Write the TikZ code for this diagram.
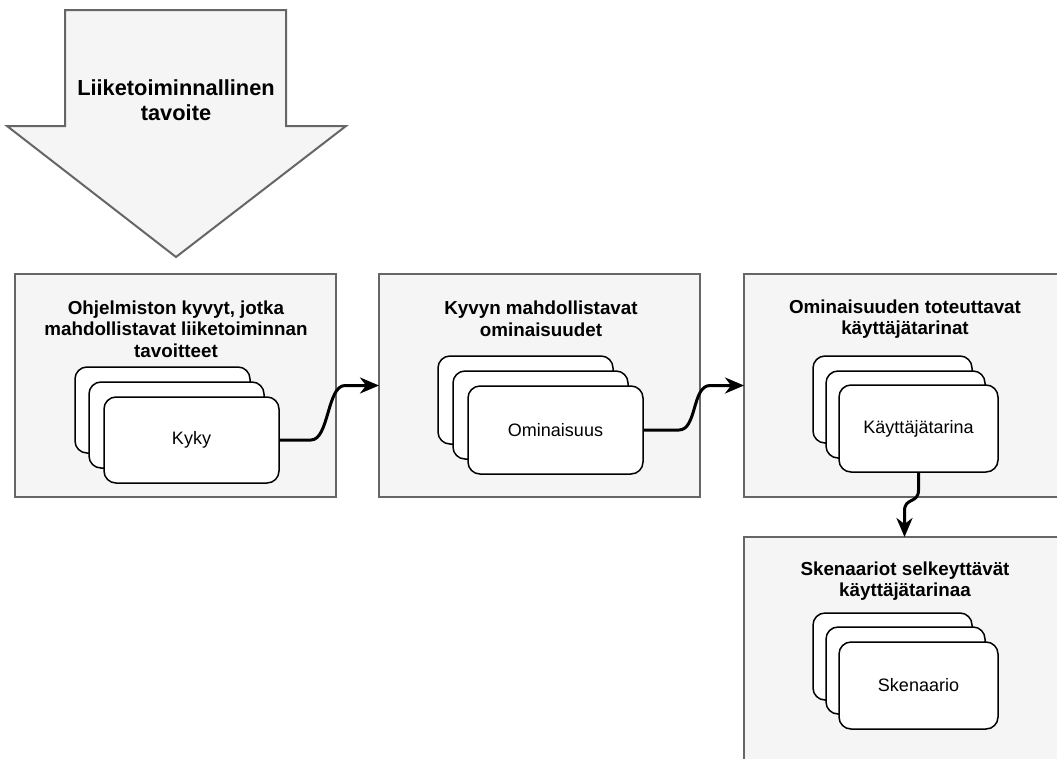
\documentclass[tikz,border=0pt]{standalone}
\usepackage{fontspec}
\setmainfont{Liberation Sans}
\usetikzlibrary{arrows.meta,calc}
\definecolor{boxfill}{HTML}{F5F5F5}
\definecolor{boxline}{HTML}{666666}
\tikzset{
 panel/.style={draw=boxline, fill=boxfill, line width=2pt, minimum width=321pt, minimum height=223pt, anchor=north west, inner sep=0pt, outer sep=0pt},
 card/.style={draw=black, fill=white, line width=1.5pt, rounded corners=12pt, minimum width=175pt, minimum height=87pt, anchor=north west, inner sep=0pt, outer sep=0pt, font=\fontsize{18}{21.6}\selectfont},
 smallcard/.style={card, minimum width=159pt},
 ptitle/.style={font=\bfseries\fontsize{18.8}{21.5}\selectfont, align=center, inner sep=0pt},
 conn/.style={line width=3pt, -{Stealth[length=19pt,width=16pt,inset=6pt]}},
}
\begin{document}
\begin{tikzpicture}[x=1pt,y=-1pt]
\useasboundingbox (0,0) rectangle (1057,758);
\clip (0,0) rectangle (1057,758);
% goal arrow
\draw[draw=boxline, fill=boxfill, line width=2pt, line join=miter] (65,10) -- (286,10) -- (286,126) -- (346,126) -- (176,257) -- (7,126) -- (65,126) -- cycle;
\node[font=\bfseries\fontsize{21.8}{25}\selectfont, align=center, inner sep=0pt] (goal) at (176,100) {Liiketoiminnallinen\\tavoite};
% panels
\node[panel] (b1) at (15,274) {};
\node[panel] (b2) at (379,274) {};
\node[panel] (b3) at (744,274) {};
\node[panel, minimum height=300pt] (b4) at (744,537) {};
% titles
\node[ptitle] (t1) at (176,329) {Ohjelmiston kyvyt, jotka\\mahdollistavat liiketoiminnan\\tavoitteet};
\node[ptitle] (t2) at (541,319) {Kyvyn mahdollistavat\\ominaisuudet};
\node[ptitle] (t3) at (905,319) {Ominaisuuden toteuttavat\\käyttäjätarinat};
\node[ptitle] (t4) at (905,581) {Skenaariot selkeyttävät\\käyttäjätarinaa};
% cards
\node[card, minimum height=86pt] (k1a) at (75,367) {};
\node[card, minimum height=86pt] (k1b) at (89,382) {};
\node[card, minimum height=86pt] (kyky) at (104,397) {Kyky};
\node[card, minimum height=88pt] (o1a) at (438,356) {};
\node[card, minimum height=88pt] (o1b) at (453,371) {};
\node[card, minimum height=88pt] (omin) at (468,386) {Ominaisuus};
\node[smallcard] (u1a) at (813,356) {};
\node[smallcard] (u1b) at (826,371) {};
\node[smallcard] (kayt) at (839,385) {Käyttäjätarina};
\node[smallcard] (s1a) at (813,613) {};
\node[smallcard] (s1b) at (826,627) {};
\node[smallcard] (sken) at (839,642) {Skenaario};
% connectors
\draw[conn] (kyky.east) -- ++(32,0) .. controls +(18,0) and +(-18,0) .. ($(b2.west)+(-34,0)$) -- (b2.west);
\draw[conn] (omin.east) -- ++(36,0) .. controls +(18,0) and +(-18,0) .. ($(b3.west)+(-34,0)$) -- (b3.west);
\draw[conn] (kayt.south) -- ++(0,18) .. controls +(0,14) and +(0,-14) .. ($(b4.north)+(0,-26)$) -- (b4.north);
\end{tikzpicture}
\end{document}
